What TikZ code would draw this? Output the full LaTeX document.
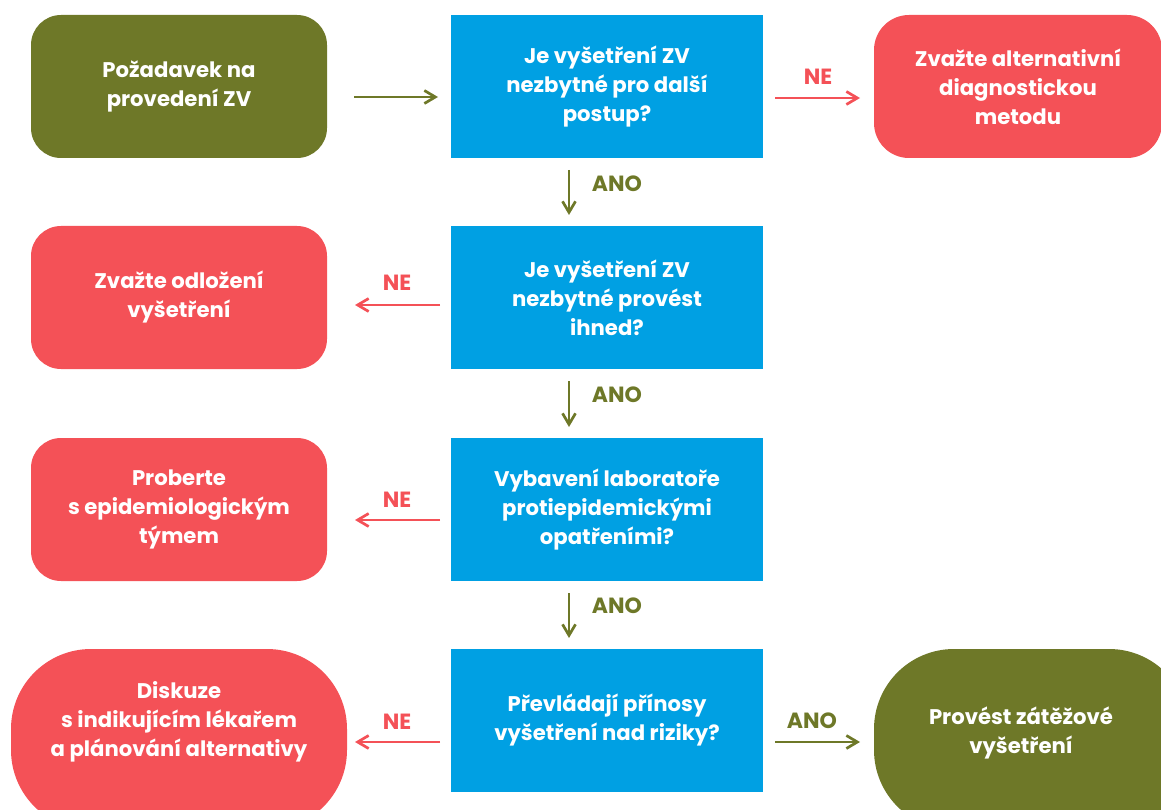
\documentclass[tikz,border=0pt]{standalone}
\usepackage{fontspec}
\setmainfont{Poppins}
\usetikzlibrary{arrows.meta,calc}
\definecolor{zgreen}{HTML}{6E7828}
\definecolor{zred}{HTML}{F45157}
\definecolor{zblue}{HTML}{00A0E3}
\begin{document}
\begin{tikzpicture}[x=1pt,y=-1pt,
  txt/.style={inner sep=0pt, outer sep=0pt, text=white, align=center, font=\fontsize{21.2}{29}\selectfont\bfseries},
  qbox/.style={txt, fill=zblue, minimum width=312pt, minimum height=143pt},
  gbox/.style={txt, fill=zgreen, rounded corners=30pt, minimum width=296pt, minimum height=143pt},
  rbox/.style={txt, fill=zred, rounded corners=30pt, minimum width=296pt, minimum height=143pt},
  garr/.style={draw=zgreen, line width=2.7pt, -{Straight Barb[length=11pt,width=13pt]}},
  rarr/.style={draw=zred, line width=2.7pt, -{Straight Barb[length=11pt,width=13pt]}},
  glab/.style={text=zgreen, font=\fontsize{22}{24}\selectfont\bfseries, inner sep=0pt},
  rlab/.style={text=zred, font=\fontsize{22}{24}\selectfont\bfseries, inner sep=0pt}]
\useasboundingbox (0,0) rectangle (1161,810);
\clip (0,0) rectangle (1161,810);
% row 1
\node[gbox] (a) at (179,86.5) {Požadavek na\\provedení ZV};
\node[qbox] (b1) at (607,86.5) {Je vyšetření ZV\\nezbytné pro další\\postup?};
\node[rbox, minimum width=288pt, rounded corners=35pt] (r1) at (1018,86.5) {Zvažte alternativní\\diagnostickou\\metodu};
% row 2
\node[qbox] (b2) at (607,297.5) {Je vyšetření ZV\\nezbytné provést\\ihned?};
\node[rbox] (r2) at (179,297.5) {Zvažte odložení\\vyšetření};
% row 3
\node[qbox] (b3) at (607,509.5) {Vybavení laboratoře\\protiepidemickými\\opatřeními?};
\node[rbox] (r3) at (179,509.5) {Proberte\\s epidemiologickým\\týmem};
% row 4
\node[qbox] (b4) at (607,720.5) {Převládají přínosy\\vyšetření nad riziky?};
\node[rbox, minimum width=336pt, minimum height=181pt, rounded corners=80pt] (r4) at (179,739.5) {};
\node[txt] (r4t) at (179,722) {Diskuze\\s indikujícím lékařem\\a plánování alternativy};
\node[gbox, minimum width=315pt, minimum height=181pt, rounded corners=80pt] (g4) at (1031.5,739.5) {};
\node[txt] (g4t) at (1021,733) {Provést zátěžové\\vyšetření};
% arrows
\draw[garr] ($(a.east)+(27,10.5)$) -- ($(b1.west)+(-13,10.5)$);
\draw[rarr] ($(b1.east)+(12,11.5)$) -- ($(r1.west)+(-14,11.5)$);
\node[rlab] (l1) at (818,77) {NE};
\draw[garr] ($(b1.south)+(-38,12)$) -- ($(b2.north)+(-38,-11)$);
\node[glab] (l2) at (617,184) {ANO};
\draw[rarr] ($(b2.west)+(-11,7.5)$) -- ($(r2.east)+(28,7.5)$);
\node[rlab] (l3) at (397,283) {NE};
\draw[garr] ($(b2.south)+(-38,12)$) -- ($(b3.north)+(-38,-11)$);
\node[glab] (l4) at (617,395) {ANO};
\draw[rarr] ($(b3.west)+(-11,10.5)$) -- ($(r3.east)+(28,10.5)$);
\node[rlab] (l5) at (397,500) {NE};
\draw[garr] ($(b3.south)+(-38,12)$) -- ($(b4.north)+(-38,-11)$);
\node[glab] (l6) at (617,606) {ANO};
\draw[rarr] ($(b4.west)+(-11,21.5)$) -- ($(r4.east)+(8,2.5)$);
\node[rlab] (l7) at (397,722) {NE};
\draw[garr] ($(b4.east)+(12,21.5)$) -- ($(g4.west)+(-14,2.5)$);
\node[glab] (l8) at (812,721) {ANO};
\end{tikzpicture}
\end{document}
